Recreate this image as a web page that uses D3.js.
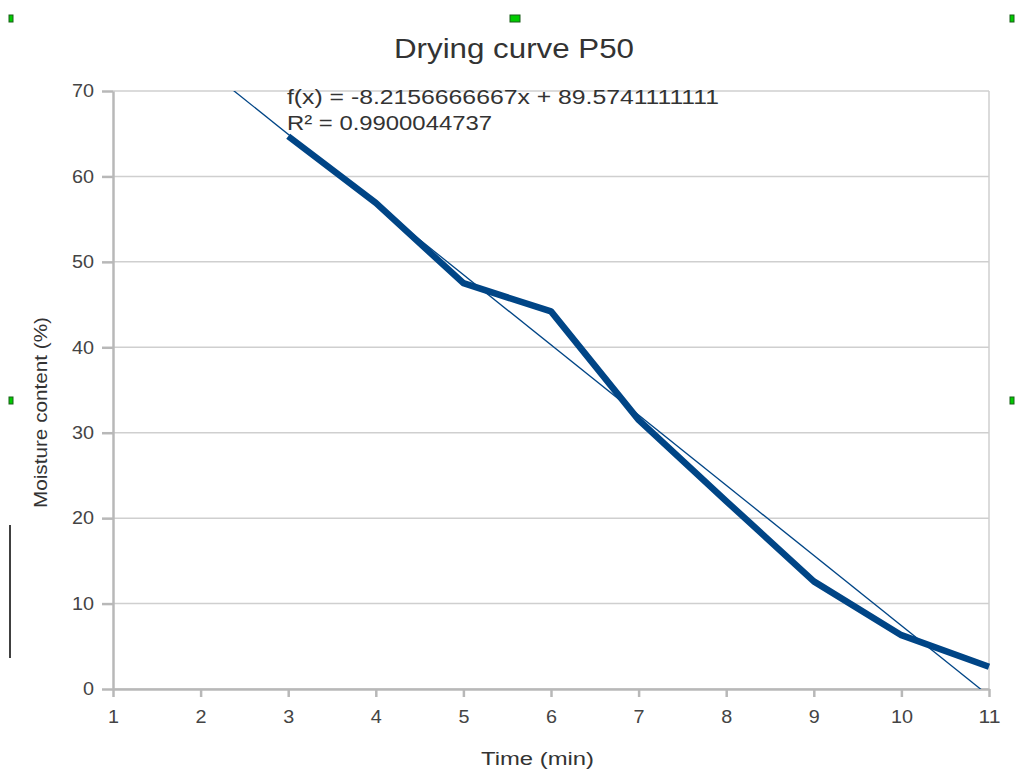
<!DOCTYPE html>
<html>
<head>
<meta charset="utf-8">
<script src="https://cdn.jsdelivr.net/npm/d3@7"></script>
<style>
  body { margin: 0; background: #fff; }
  svg { display: block; font-family: "Liberation Sans", Arial, sans-serif; }
</style>
</head>
<body>
<div id="chart"></div>
<script>
// measured drying data
var timeMin = [3, 4, 5, 6, 7, 8, 9, 10, 11];
var moisture = [64.7, 56.9, 47.5, 44.2, 31.5, 22.0, 12.6, 6.3, 2.6];
var xTicks = [1, 2, 3, 4, 5, 6, 7, 8, 9, 10, 11];
var yTicks = [0, 10, 20, 30, 40, 50, 60, 70];
var trendSlope = -8.2156666667, trendIntercept = 89.5741111111;
var eqLabels = ["f(x) = -8.2156666667x + 89.5741111111", "R² = 0.9900044737"];

var W = 1015, H = 780,
    pLeft = 113, pRight = 989, pTop = 91, pBottom = 689;

var svg = d3.select("#chart").append("svg")
    .attr("width", W).attr("height", H);

var x = d3.scaleLinear().domain([1, 11]).range([pLeft, pRight]);
var y = d3.scaleLinear().domain([0, 70]).range([pBottom, pTop]);

// grid
svg.append("g").selectAll("line").data(yTicks).enter().append("line")
    .attr("x1", pLeft).attr("x2", pRight)
    .attr("y1", function(d) { return y(d); }).attr("y2", function(d) { return y(d); })
    .attr("stroke", "#cfcfcf").attr("stroke-width", 1.5);
svg.append("line").attr("x1", pRight).attr("x2", pRight).attr("y1", pTop).attr("y2", pBottom)
    .attr("stroke", "#cfcfcf").attr("stroke-width", 1.5);

// axes
var xAxis = svg.append("g").attr("transform", "translate(0," + pBottom + ")")
    .call(d3.axisBottom(x).tickValues(xTicks).tickSize(8).tickPadding(13).tickSizeOuter(0));
var yAxis = svg.append("g").attr("transform", "translate(" + pLeft + ",0)")
    .call(d3.axisLeft(y).tickValues(yTicks).tickSize(11).tickPadding(8).tickSizeOuter(0));
[xAxis, yAxis].forEach(function(a) {
  a.select(".domain").attr("stroke", "#b8b8b8").attr("stroke-width", 2.5);
  a.selectAll(".tick line").attr("stroke", "#b8b8b8").attr("stroke-width", 2.5);
  a.selectAll(".tick text").attr("fill", "#444").attr("font-size", 18)
    .attr("font-family", "Liberation Sans, Arial, sans-serif")
    .attr("textLength", function(d) { return String(d).length * 11; })
    .attr("lengthAdjust", "spacingAndGlyphs");
});

svg.append("clipPath").attr("id", "plot").append("rect")
    .attr("x", pLeft).attr("y", pTop).attr("width", pRight - pLeft).attr("height", pBottom - pTop);

// data line
svg.append("path").datum(timeMin)
    .attr("fill", "none").attr("stroke", "#004586").attr("stroke-width", 6.5)
    .attr("stroke-linejoin", "round")
    .attr("d", d3.line().x(function(d) { return x(d); })
      .y(function(d, i) { return y(moisture[i]); }));

// trend line
svg.append("line").attr("clip-path", "url(#plot)")
    .attr("x1", x(1)).attr("y1", y(trendSlope * 1 + trendIntercept))
    .attr("x2", x(11)).attr("y2", y(trendSlope * 11 + trendIntercept))
    .attr("stroke", "#004586").attr("stroke-width", 1.3);

// equation
var eqWidths = [432, 205];
svg.append("g").selectAll("text").data(eqLabels).enter().append("text")
    .attr("x", 287).attr("y", function(d, i) { return 104 + i * 26; })
    .attr("font-size", 20).attr("fill", "#333")
    .attr("textLength", function(d, i) { return eqWidths[i]; })
    .attr("lengthAdjust", "spacingAndGlyphs")
    .text(function(d) { return d; });

// titles
svg.append("text").attr("x", 394).attr("y", 58)
    .attr("textLength", 240).attr("lengthAdjust", "spacingAndGlyphs")
    .attr("font-size", 27).attr("fill", "#333").text("Drying curve P50");
svg.append("text").attr("x", 481).attr("y", 765)
    .attr("textLength", 113).attr("lengthAdjust", "spacingAndGlyphs")
    .attr("font-size", 18).attr("fill", "#333").text("Time (min)");
svg.append("text").attr("transform", "translate(47,508) rotate(-90)")
    .attr("textLength", 191).attr("lengthAdjust", "spacingAndGlyphs")
    .attr("font-size", 18).attr("fill", "#333")
    .text("Moisture content (%)");

// selection handles
var handles = [[12, 18], [513, 18], [1013, 18], [12, 400], [1013, 400]];
svg.append("g").selectAll("rect").data(handles).enter().append("rect")
    .attr("x", function(d) { return d[0] - 3; }).attr("y", function(d) { return d[1] - 3; })
    .attr("width", function(d, i) { return i == 1 ? 10 : 4; }).attr("height", 7)
    .attr("fill", "#00cc00").attr("stroke", "#1a5c1a").attr("stroke-width", 1);
svg.append("line").attr("x1", 10).attr("x2", 10).attr("y1", 525).attr("y2", 658)
    .attr("stroke", "#000").attr("stroke-width", 1.5);
</script>
</body>
</html>
